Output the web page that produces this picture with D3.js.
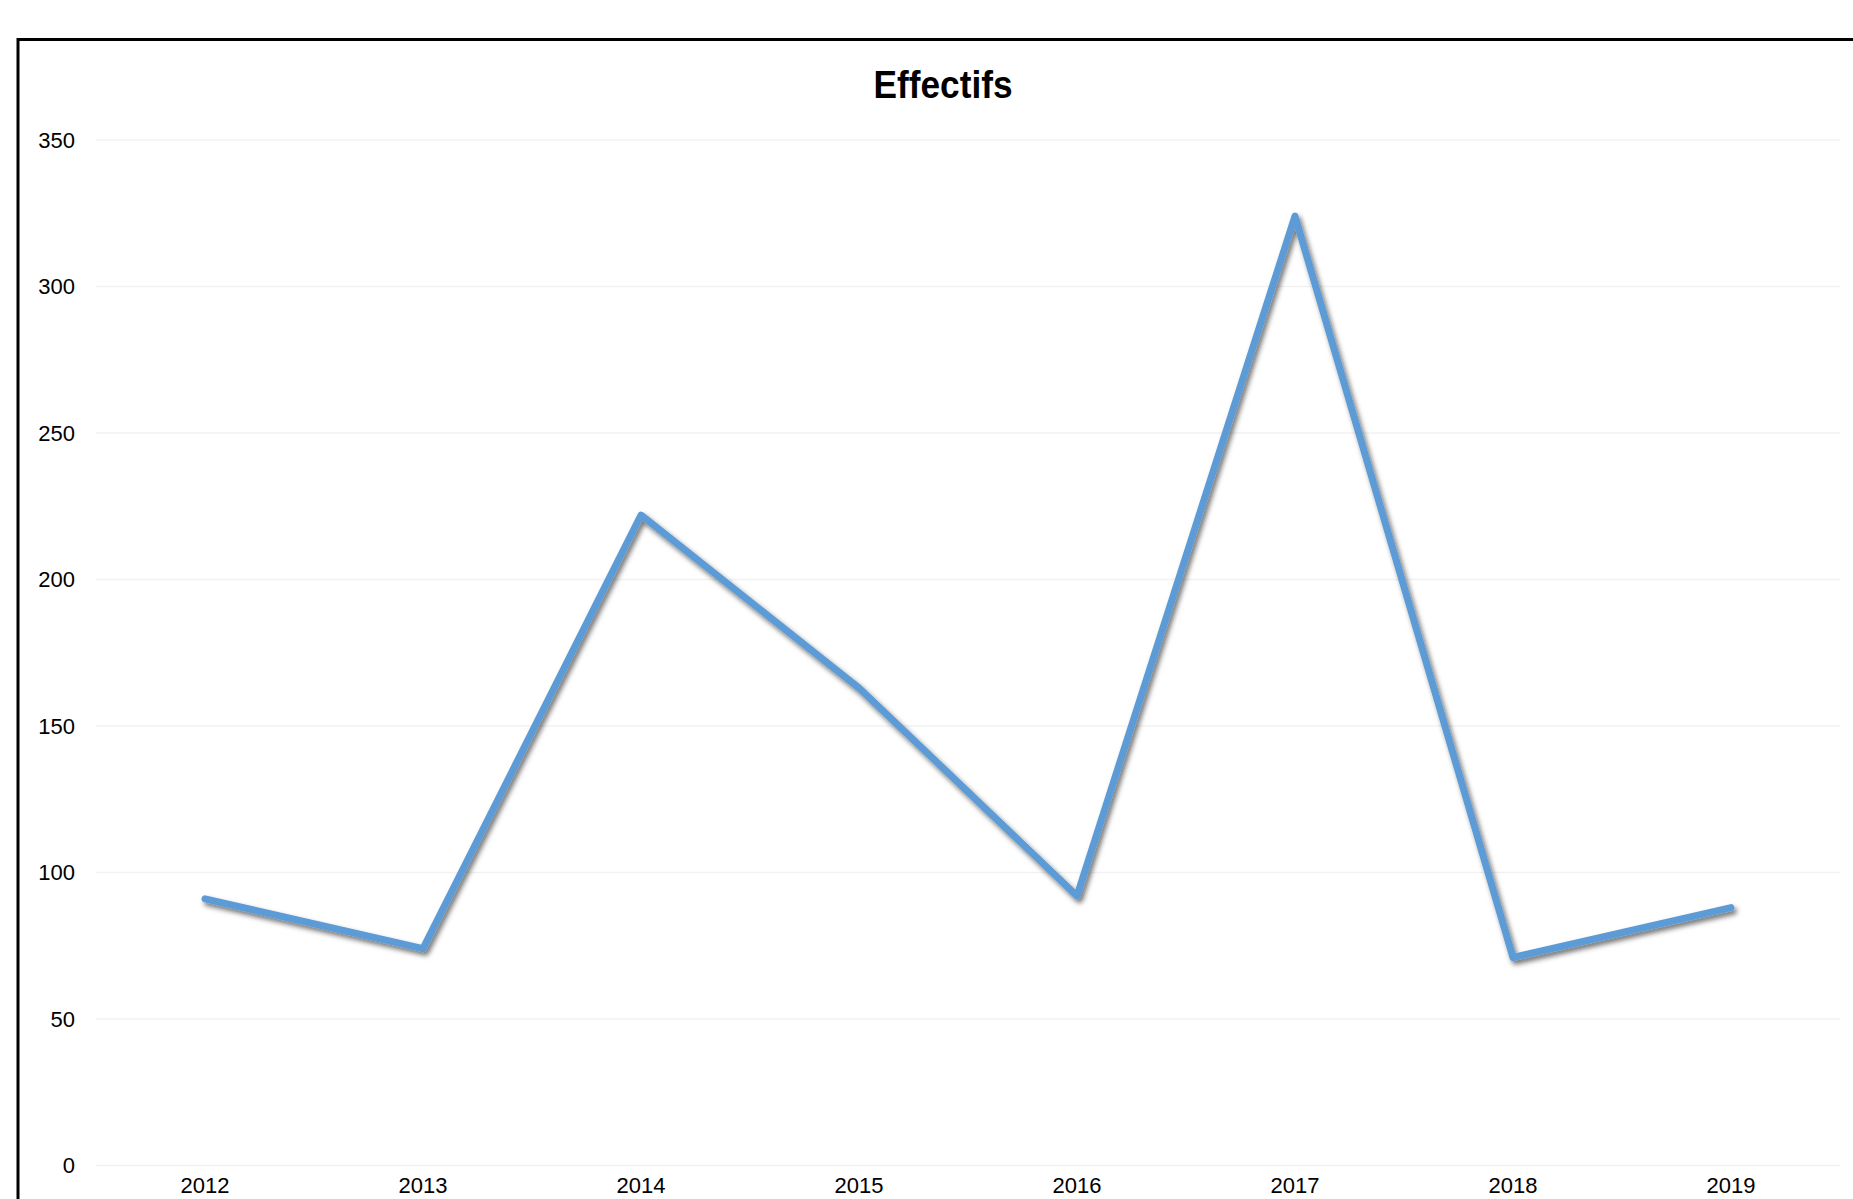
<!DOCTYPE html>
<html>
<head>
<meta charset="utf-8">
<script src="https://cdn.jsdelivr.net/npm/d3@7"></script>
<style>
  html, body { margin: 0; padding: 0; background: #ffffff; overflow: hidden; }
  svg { display: block; }
</style>
</head>
<body>
<svg id="chart" width="1853" height="1199"></svg>
<script>
// Headcount per year
const years = ["2012", "2013", "2014", "2015", "2016", "2017", "2018", "2019"];
const effectifs = [91, 74, 222, 163, 92, 324, 71, 88];
const yTicks = [0, 50, 100, 150, 200, 250, 300, 350];
const chartTitle = "Effectifs";

const svg = d3.select("#chart");

// drop shadow under the series line
const defs = svg.append("defs");
const shadow = defs.append("filter")
  .attr("id", "lineShadow")
  .attr("x", "-10%").attr("y", "-10%")
  .attr("width", "120%").attr("height", "120%");
shadow.append("feDropShadow")
  .attr("dx", 2.5).attr("dy", 3.5)
  .attr("stdDeviation", 2.4)
  .attr("flood-color", "#000000")
  .attr("flood-opacity", 0.55);

// chart frame (extends beyond the visible area at right and bottom)
svg.append("rect")
  .attr("x", 18).attr("y", 39.5)
  .attr("width", 1900).attr("height", 1300)
  .attr("fill", "#ffffff")
  .attr("stroke", "#000000")
  .attr("stroke-width", 3);

const plotLeft = 96, plotRight = 1840, plotTop = 140, plotBottom = 1165.5;

const x = d3.scaleBand()
  .domain(years)
  .range([plotLeft, plotRight]);

const y = d3.scaleLinear()
  .domain([0, 350])
  .range([plotBottom, plotTop]);

// horizontal gridlines
svg.append("g")
  .selectAll("line")
  .data(yTicks)
  .join("line")
  .attr("x1", plotLeft).attr("x2", plotRight)
  .attr("y1", d => y(d)).attr("y2", d => y(d))
  .attr("stroke", "#f2f2f2")
  .attr("stroke-width", 1.5);

// y axis labels
const yAxis = svg.append("g")
  .attr("transform", `translate(${plotLeft},0)`)
  .call(d3.axisLeft(y).tickValues(yTicks).tickSize(0).tickPadding(21));
yAxis.select(".domain").remove();
yAxis.selectAll("text")
  .attr("font-family", "'Liberation Sans', Arial, sans-serif")
  .attr("font-size", 22)
  .attr("fill", "#000000");

// x axis labels
const xAxis = svg.append("g")
  .attr("transform", `translate(0,${plotBottom})`)
  .call(d3.axisBottom(x).tickSize(0).tickPadding(12));
xAxis.select(".domain").remove();
xAxis.selectAll("text")
  .attr("font-family", "'Liberation Sans', Arial, sans-serif")
  .attr("font-size", 22)
  .attr("fill", "#000000");

// series line
const line = d3.line()
  .x((d, i) => x(years[i]) + x.bandwidth() / 2)
  .y(d => y(d));

svg.append("path")
  .datum(effectifs)
  .attr("d", line)
  .attr("fill", "none")
  .attr("stroke", "#5b9bd5")
  .attr("stroke-width", 7)
  .attr("stroke-linejoin", "round")
  .attr("stroke-linecap", "round")
  .attr("filter", "url(#lineShadow)");

// title
svg.append("text")
  .attr("x", 943)
  .attr("y", 98)
  .attr("text-anchor", "middle")
  .attr("font-family", "'Liberation Sans', Arial, sans-serif")
  .attr("font-weight", "bold")
  .attr("font-size", 39)
  .attr("textLength", 139)
  .attr("lengthAdjust", "spacingAndGlyphs")
  .attr("fill", "#000000")
  .text(chartTitle);
</script>
</body>
</html>
